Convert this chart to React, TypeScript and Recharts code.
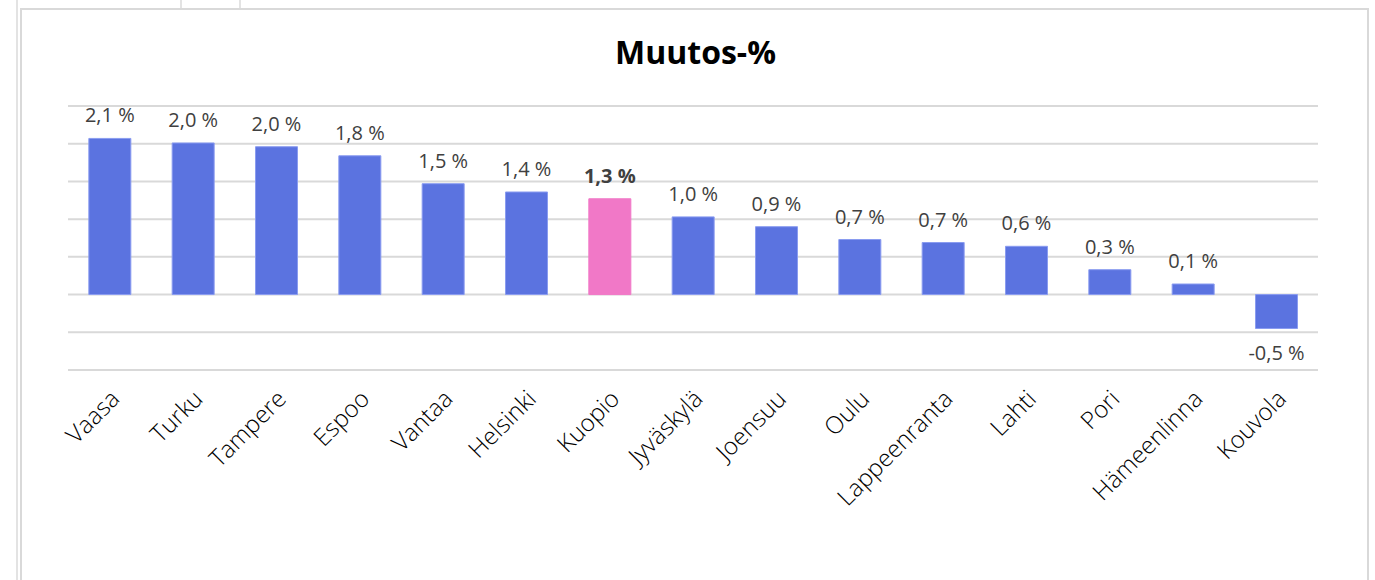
import React from "react";
import { BarChart, Bar, XAxis, YAxis, CartesianGrid, Cell, LabelList } from "recharts";

const cities = [
  "Vaasa", "Turku", "Tampere", "Espoo", "Vantaa", "Helsinki", "Kuopio",
  "Jyväskylä", "Joensuu", "Oulu", "Lappeenranta", "Lahti", "Pori",
  "Hämeenlinna", "Kouvola",
];
const changes = [2.07, 2.01, 1.96, 1.84, 1.47, 1.36, 1.27, 1.03, 0.9, 0.73, 0.69, 0.64, 0.33, 0.14, -0.45];
const yTicks = [-1, -0.5, 0, 0.5, 1, 1.5, 2, 2.5];
const highlight = "Kuopio";

const data = cities.map((name, i) => ({ name, value: changes[i] }));

const FONT = "'Open Sans', sans-serif";
const BLUE = "#5B73E0";
const PINK = "#F178C7";

const fmt = (v: number) => v.toFixed(1).replace(".", ",") + " %";

const renderTick = (props: any) => {
  const { x, y, payload } = props;
  return (
    <g transform={`translate(${x + 5},${y + 16})`}>
      <text
        textAnchor="end"
        transform="rotate(-45)"
        fill="#000"
        fontSize={24}
        fontWeight={300}
        fontFamily={FONT}
        dy={9}
      >
        {payload.value}
      </text>
    </g>
  );
};

const renderLabel = (props: any) => {
  const { x, y, width, height, value, index } = props;
  const neg = value < 0;
  const cx = x + width / 2;
  const top = Math.min(y, y + height);
  const bottom = Math.max(y, y + height);
  const ty = neg ? bottom + 31 : top - 16;
  const bold = cities[index] === highlight;
  return (
    <text
      x={cx}
      y={ty}
      textAnchor="middle"
      fill="#404040"
      fontSize={20}
      fontWeight={bold ? 700 : 400}
      fontFamily={FONT}
    >
      {fmt(value)}
    </text>
  );
};

const App = () => {
  return (
    <div style={{ position: "absolute", left: 0, top: 0, width: 1375, height: 580, background: "#fff", overflow: "hidden" }}>
      <div style={{ position: "absolute", left: 16, top: 0, width: 2, height: 580, background: "#e3e3e3" }} />
      <div style={{ position: "absolute", left: 180, top: 0, width: 2, height: 9, background: "#e3e3e3" }} />
      <div style={{ position: "absolute", left: 239, top: 0, width: 2, height: 9, background: "#e3e3e3" }} />
      <div
        style={{
          position: "absolute",
          left: 20,
          top: 8,
          width: 1345,
          height: 600,
          border: "2px solid #d9d9d9",
        }}
      />
      <div
        style={{
          position: "absolute",
          left: 0,
          top: 30,
          width: 1391,
          textAlign: "center",
          fontFamily: FONT,
          fontWeight: 700,
          fontSize: 32,
          color: "#000",
        }}
      >
        Muutos-%
      </div>
      <div style={{ position: "absolute", left: 0, top: 0 }}>
        <BarChart
          width={1375}
          height={580}
          data={data}
          margin={{ top: 106, right: 57, bottom: 150, left: 68 }}
          barCategoryGap="25%"
        >
          <CartesianGrid vertical={false} stroke="#d9d9d9" strokeWidth={2} />
          <XAxis
            dataKey="name"
            axisLine={false}
            tickLine={false}
            interval={0}
            height={60}
            tick={renderTick}
          />
          <YAxis hide domain={[-1, 2.5]} ticks={yTicks} width={0} />
          <Bar dataKey="value" isAnimationActive={false} strokeWidth={1}>
            {data.map((d, i) => (
              <Cell key={i} fill={d.name === highlight ? PINK : BLUE} stroke={d.name === highlight ? PINK : "#8a9cf0"} />
            ))}
            <LabelList dataKey="value" content={renderLabel} />
          </Bar>
        </BarChart>
      </div>
    </div>
  );
};

export default App;
